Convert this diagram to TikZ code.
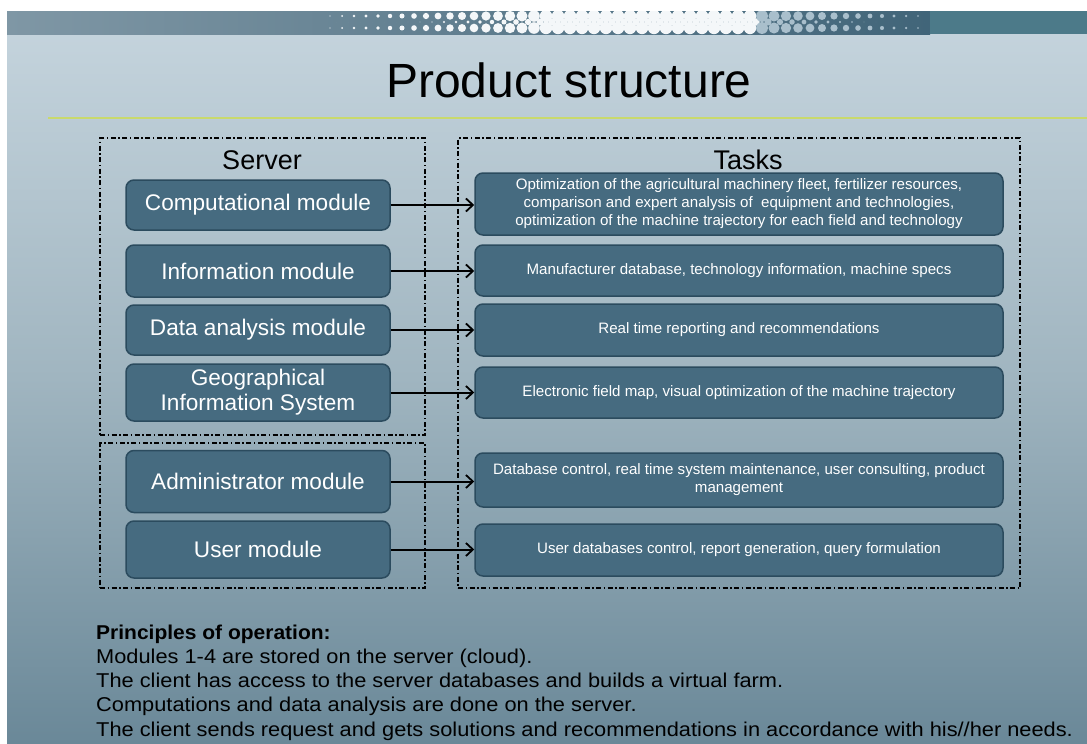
\documentclass[tikz,border=0pt]{standalone}
\usepackage{fontspec}
\setmainfont{Liberation Sans}
\newfontfamily\wideface[FakeStretch=1.09]{Liberation Sans}
\newfontfamily\wideboldface[FakeStretch=1.05]{Liberation Sans Bold}
\usetikzlibrary{arrows.meta,shadings}
\definecolor{boxfill}{HTML}{466B80}
\definecolor{boxline}{HTML}{2B4B5E}
\definecolor{bgtop}{HTML}{C6D5DE}
\definecolor{bgmid}{HTML}{A0B5C0}
\definecolor{bgbot}{HTML}{6A8898}
\definecolor{barleft}{HTML}{7F97A5}
\definecolor{barright}{HTML}{416579}
\definecolor{barteal}{HTML}{4C7A89}
\definecolor{dotcol}{HTML}{F4F7F9}
\definecolor{dotgrey}{HTML}{A9BFCC}
\definecolor{rulegreen}{HTML}{C9D96C}
\begin{document}
\begin{tikzpicture}[x=1pt,y=-1pt,
  module/.style={draw=boxline, fill=boxfill, rounded corners=8pt, line width=1.5pt,
    text=white, font=\fontsize{22.6}{25}\selectfont, minimum width=264pt, align=center, inner sep=0pt},
  task/.style={draw=boxline, fill=boxfill, rounded corners=8pt, line width=1.5pt,
    text=white, font=\fontsize{15.1}{18}\selectfont, minimum width=528pt, align=center, inner sep=0pt},
  dashbox/.style={draw=black, line width=1.3pt, dash pattern=on 5pt off 2.5pt on 1.5pt off 2.5pt, inner sep=0pt},
  head/.style={font=\fontsize{27}{30}\selectfont, inner sep=0pt},
  body/.style={anchor=base west, font=\wideface\fontsize{20}{24}\selectfont, inner sep=0pt},
  link/.style={line width=2pt, -{Straight Barb[length=7pt,width=13pt,line width=1.8pt]}}
]
\useasboundingbox (0,0) rectangle (1087,744);
\fill[white] (0,0) rectangle (1087,744);
% background
\shade[top color=bgtop, bottom color=bgbot, middle color=bgmid] (7,11) rectangle (1087,744);
% top bar
\shade[left color=barleft, right color=barright] (7,11) rectangle (930,34);
\fill[barteal] (930,11) rectangle (1087,34);
\begin{scope}
\clip (7,11) rectangle (930,34);
\foreach \xx in {330,342,...,926}{
  \pgfmathsetmacro{\rr}{(\xx<545) ? (0.7+5.4*(\xx-330)/215) : ((\xx<760) ? 6.2 : max(0.8,6.0-5.2*(\xx-760)/160))}
  \pgfmathsetmacro{\rs}{max(0,\rr-2.4)}
  \ifnum\xx<760 \def\dc{dotcol}\else\def\dc{dotgrey}\fi
  \fill[\dc] (\xx,16) circle (\rr);
  \fill[\dc] (\xx,28) circle (\rr);
  \fill[\dc] (\xx+6,22) circle (\rs);
}
\end{scope}
% title
\node[font=\fontsize{48}{52}\selectfont, inner sep=0pt] (title) at (569,80) {Product structure};
\draw[rulegreen, line width=2pt] (48,118) -- (1087,118);
% dashed group boxes
\node[dashbox, minimum width=325pt, minimum height=297pt] (serverbox) at (262.5,286.5) {};
\node[dashbox, minimum width=325pt, minimum height=145pt] (clientbox) at (262.5,515.5) {};
\node[dashbox, minimum width=562pt, minimum height=450pt] (tasksbox) at (739,363) {};
\node[head] (server) at (262,160) {Server};
\node[head] (tasks) at (748,160) {Tasks};
% modules
\node[module, minimum height=50pt] (comp) at (258,205) {Computational module};
\node[module, minimum height=52pt] (info) at (258,271) {Information module};
\node[module, minimum height=50pt] (data) at (258,330) {Data analysis module};
\node[module, minimum height=57pt] (gis) at (258,392.5) {Geographical\\Information System};
\node[module, minimum height=62pt] (admin) at (258,481.5) {Administrator module};
\node[module, minimum height=57pt] (user) at (258,549.5) {User module};
% tasks
\node[task, minimum height=62pt] (t1) at (739,204) {Optimization of the agricultural machinery fleet, fertilizer resources,\\comparison and expert analysis of\ \ equipment and technologies,\\optimization of the machine trajectory for each field and technology};
\node[task, minimum height=51pt] (t2) at (739,270.5) {Manufacturer database, technology information, machine specs};
\node[task, minimum height=52pt] (t3) at (739,330) {Real time reporting and recommendations};
\node[task, minimum height=51pt] (t4) at (739,392.5) {Electronic field map, visual optimization of the machine trajectory};
\node[task, minimum height=54pt] (t5) at (739,480) {Database control, real time system maintenance, user consulting, product\\management};
\node[task, minimum height=52pt] (t6) at (739,550) {User databases control, report generation, query formulation};
% arrows
\foreach \a/\b in {comp/t1,info/t2,data/t3,gis/t4,admin/t5,user/t6}
  \draw[link] (\a.east) -- (\a.east -| \b.west);
% principles
\node[body, font=\wideboldface\fontsize{20}{24}\selectfont] (p0) at (96,639) {Principles of operation:};
\node[body] (p1) at (96,663) {Modules 1-4 are stored on the server (cloud).};
\node[body] (p2) at (96,687) {The client has access to the server databases and builds a virtual farm.};
\node[body] (p3) at (96,711) {Computations and data analysis are done on the server.};
\node[body] (p4) at (96,736) {The client sends request and gets solutions and recommendations in accordance with his//her needs.};
\end{tikzpicture}
\end{document}
